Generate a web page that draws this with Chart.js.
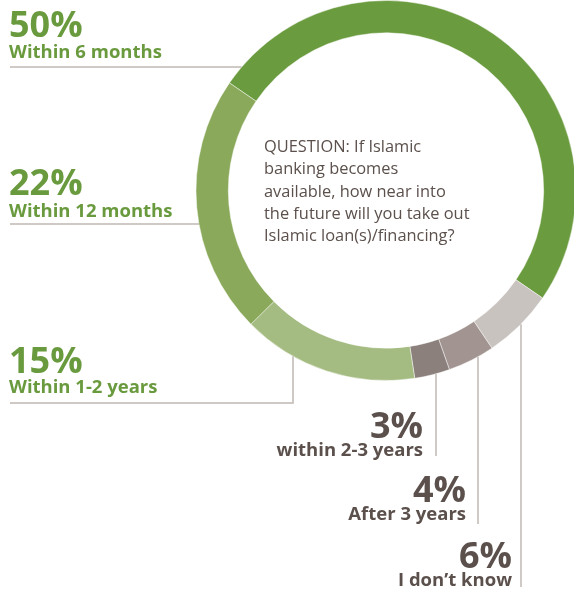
<!DOCTYPE html>
<html>
<head>
<meta charset="utf-8">
<script src="https://cdn.jsdelivr.net/npm/chart.js@4.4.1/dist/chart.umd.min.js"></script>
<style>
  html, body { margin: 0; padding: 0; background: #fff; overflow: hidden; }
  #wrap { width: 574px; height: 590px; overflow: hidden; position: relative; }
  canvas { position: absolute; left: 0; top: 0; }
</style>
</head>
<body>
<div id="wrap"><canvas id="myChart" width="580" height="590"></canvas></div>
<script>
// survey answers, in the order they go round the ring (clockwise)
var categories = ['Within 6 months', 'I don\u2019t know', 'After 3 years', 'within 2-3 years', 'Within 1-2 years', 'Within 12 months'];
var shares = [50, 6, 4, 3, 15, 22];
var sliceColors = ['#6b9b3f', '#c9c3c0', '#a29591', '#8b807c', '#a4bb81', '#8aa95b'];
var question = ['QUESTION: If Islamic', 'banking becomes', 'available, how near into', 'the future will you take out', 'Islamic loan(s)/financing?'];

var GREEN = '#6a9a3e';
var BROWN = '#5b504c';
var LINE = '#c0b8b4';

// where each callout sits on the page
var callouts = [
	{ i: 0, align: 'left', x: 9, pctY: 37, labY: 58, line: { type: 'h', x: 10, y: 67 } },
	{ i: 5, align: 'left', x: 9, pctY: 195, labY: 217, line: { type: 'h', x: 10, y: 224 } },
	{ i: 4, align: 'left', x: 9, pctY: 373, labY: 393, line: { type: 'elbow', x0: 10, y: 403, x: 293 } },
	{ i: 3, align: 'right', x: 423, pctY: 438, labY: 456, line: { type: 'v', x: 436, y: 456 } },
	{ i: 2, align: 'right', x: 466, pctY: 502, labY: 520, line: { type: 'v', x: 478, y: 524 } },
	{ i: 1, align: 'right', x: 512, pctY: 568, labY: 586, line: { type: 'v', x: 521, y: 587 } }
];

var calloutPlugin = {
	id: 'callouts',
	afterDatasetsDraw: function(chart) {
		var ctx = chart.ctx;
		var arc = chart.getDatasetMeta(0).data[0];
		var cx = arc.x, cy = arc.y, r = arc.outerRadius;

		ctx.save();
		ctx.strokeStyle = LINE;
		ctx.lineWidth = 1.5;
		callouts.forEach(function(c) {
			var l = c.line;
			ctx.beginPath();
			if (l.type === 'h') {
				var dy = l.y - cy;
				ctx.moveTo(l.x, l.y);
				ctx.lineTo(cx - Math.sqrt(r * r - dy * dy), l.y);
			} else if (l.type === 'elbow') {
				var dx = l.x - cx;
				ctx.moveTo(l.x0, l.y);
				ctx.lineTo(l.x, l.y);
				ctx.lineTo(l.x, cy + Math.sqrt(r * r - dx * dx));
			} else {
				var dx2 = l.x - cx;
				ctx.moveTo(l.x, l.y);
				ctx.lineTo(l.x, cy + Math.sqrt(r * r - dx2 * dx2));
			}
			ctx.stroke();

			var color = c.align === 'left' ? GREEN : BROWN;
			ctx.fillStyle = color;
			ctx.textAlign = c.align;
			ctx.textBaseline = 'alphabetic';
			ctx.font = 'bold 36px "Open Sans"';
			ctx.fillText(shares[c.i] + '%', c.x, c.pctY);
			ctx.font = 'bold 18.5px "Open Sans"';
			ctx.fillText(categories[c.i], c.x, c.labY);
		});

		// question in the middle of the ring
		ctx.fillStyle = BROWN;
		ctx.textAlign = 'left';
		ctx.font = '16.4px "Open Sans"';
		for (var k = 0; k < question.length; k++) {
			ctx.fillText(question[k], 264, 152 + k * 22.3);
		}
		ctx.restore();
	}
};

var ctx = document.getElementById('myChart');

var donut = new Chart(ctx, {
	type: 'doughnut',
	data: {
		labels: categories,
		datasets: [{
			data: shares,
			backgroundColor: sliceColors,
			borderColor: 'rgba(255,255,255,0.45)',
			borderWidth: 1
		}]
	},
	options: {
		responsive: false,
		animation: false,
		rotation: -55.5,
		cutout: '83%',
		layout: { padding: { left: 195, right: 3, top: 0, bottom: 209 } },
		plugins: {
			legend: { display: false },
			tooltip: { enabled: false }
		}
	},
	plugins: [calloutPlugin]
});
</script>
</body>
</html>
